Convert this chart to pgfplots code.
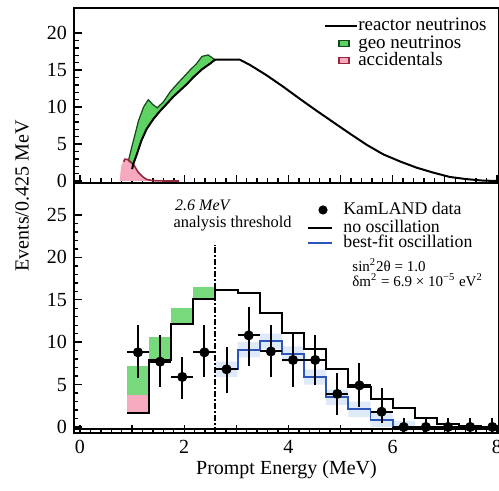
\documentclass[border=0pt]{standalone}
\usepackage{fontspec}
\setmainfont{Liberation Serif}
\usepackage{pgfplots}
\pgfplotsset{compat=1.18}
\definecolor{geo}{RGB}{95,210,100}
\definecolor{geoline}{RGB}{20,70,25}
\definecolor{acc}{RGB}{245,170,192}
\definecolor{accline}{RGB}{150,40,60}
\definecolor{fitblue}{RGB}{45,85,185}
\definecolor{band}{RGB}{222,233,250}
\tikzset{legtxt/.style={anchor=west, inner sep=0pt, text height=1ex, text depth=0pt}}
\begin{document}
\begin{tikzpicture}
\pgfplotsset{
  kl/.style={
    scale only axis, width=212.5pt, anchor=south west,
    xmin=-0.115, xmax=8.04,
    axis line style={line width=1pt},
    tick style={line width=0.7pt, black},
    major tick length=4pt, minor tick length=2.5pt,
    xtick={0,...,8}, minor x tick num=4,
    xtick pos=bottom, ytick pos=left,
    tick align=inside,
    ticklabel style={font=\fontsize{10}{12}\selectfont},
    /pgf/number format/assume math mode=true,
  },
}
% ---------------- top panel ----------------
\begin{axis}[kl, at={(37pt,154pt)}, height=87.5pt,
  ymin=-0.27, ymax=23.4, ytick={0,5,10,15,20}, minor y tick num=4,
  xticklabels={},
]
\addplot[fill=acc, draw=none] coordinates {(0.76,0)(0.79,2.0)(0.84,2.85)(0.9,2.95)(0.97,2.6)(1.03,2.2)(1.12,1.15)(1.2,0.6)(1.28,0.2)(1.4,0.05)(1.9,0)} --cycle;
\addplot[fill=geo, draw=geoline, line width=0.6pt] coordinates {(0.93,2.75)(0.99,4.5)(1.06,6.4)(1.12,8.1)(1.22,10.0)(1.31,11.0)(1.39,10.4)(1.48,9.9)(1.6,10.7)(1.73,12.05)(1.86,13.1)(1.98,14.0)(2.11,15.0)(2.24,15.9)(2.34,16.85)(2.46,17.05)(2.56,16.55)(2.6,16.4)(2.5,15.9)(2.34,15.1)(2.17,14.0)(2.05,13.1)(1.92,12.25)(1.79,11.4)(1.66,10.4)(1.54,9.5)(1.41,8.4)(1.28,7.05)(1.18,5.5)(1.09,3.6)(1.02,2.25)} --cycle;
\addplot[accline, line width=0.8pt] coordinates {(0.84,2.6)(0.86,2.95)(0.92,2.9)(0.97,2.6)(1.03,2.2)(1.12,1.15)(1.2,0.6)(1.28,0.2)(1.4,0.05)(1.6,0)(1.9,0)};
\addplot[black, line width=1pt] coordinates {(1.0,1.6)(1.02,2.25)(1.09,3.6)(1.18,5.5)(1.28,7.05)(1.41,8.4)(1.54,9.5)(1.66,10.4)(1.79,11.4)(1.92,12.25)(2.05,13.1)(2.17,14.0)(2.34,15.1)(2.5,15.9)(2.59,16.4)(3.07,16.4)(3.26,15.7)(3.49,14.7)(3.58,14.3)(3.9,12.75)(4.22,11.1)(4.54,9.5)(4.86,7.95)(5.18,6.4)(5.5,4.9)(5.82,3.6)(6.14,2.65)(6.46,1.8)(6.78,1.13)(7.1,0.54)(7.42,0.25)(7.74,0.05)(8.04,0)};
% legend
\draw[black, line width=1pt] (rel axis cs:0.5906,0.8966) -- (rel axis cs:0.6659,0.8966);
\node[legtxt, font=\fontsize{9.5}{10}\selectfont] at (rel axis cs:0.668,0.8966) {reactor neutrinos};
\draw[fill=geo, draw=geoline, line width=0.6pt] (rel axis cs:0.6235,0.779) rectangle (rel axis cs:0.647,0.813);
\node[legtxt, font=\fontsize{9.5}{10}\selectfont] at (rel axis cs:0.668,0.793) {geo neutrinos};
\draw[fill=acc, draw=accline, line width=0.6pt] (rel axis cs:0.6235,0.681) rectangle (rel axis cs:0.647,0.715);
\node[legtxt, font=\fontsize{9.5}{10}\selectfont] at (rel axis cs:0.668,0.695) {accidentals};
\end{axis}
% ---------------- bottom panel ----------------
\begin{axis}[kl, at={(37pt,29pt)}, height=125pt,
  ymin=-0.71, ymax=28.77, ytick={0,5,10,15,20,25}, minor y tick num=4,
  xticklabels={0,,2,,4,,6,,8},
  minor tick length=2pt,
  xlabel={Prompt Energy (MeV)},
  xlabel style={at={(axis description cs:0.5,0)}, anchor=center, yshift=-18.5pt, font=\fontsize{10}{12}\selectfont},
]
% blue uncertainty band
\addplot[fill=band, draw=none] coordinates {(2.6,7.7)(3.025,7.7)(3.025,10.0)(3.45,10.0)(3.45,11.0)(3.875,11.0)(3.875,9.5)(4.3,9.5)(4.3,6.8)(4.725,6.8)(4.725,4.4)(5.15,4.4)(5.15,3.0)(5.575,3.0)(5.575,1.7)(6.0,1.7)(6.0,0.7)(6.425,0.7)(6.425,0)(5.575,0)(5.575,1.2)(5.15,1.2)(5.15,2.6)(4.725,2.6)(4.725,5.0)(4.3,5.0)(4.3,7.7)(3.875,7.7)(3.875,9.2)(3.45,9.2)(3.45,8.2)(3.025,8.2)(3.025,5.9)(2.6,5.9)} --cycle;
% accidentals and geo contributions
\addplot[fill=acc, draw=none] coordinates {(0.9,1.6)(1.325,1.6)(1.325,3.8)(0.9,3.8)} --cycle;
\addplot[fill=geo!85, draw=none] coordinates {(0.9,3.8)(1.325,3.8)(1.325,7.2)(0.9,7.2)} --cycle;
\addplot[fill=geo!85, draw=none] coordinates {(1.325,7.9)(1.75,7.9)(1.75,10.6)(1.325,10.6)} --cycle;
\addplot[fill=geo!85, draw=none] coordinates {(1.75,12.2)(2.175,12.2)(2.175,14.0)(1.75,14.0)} --cycle;
\addplot[fill=geo!85, draw=none] coordinates {(2.175,15.1)(2.6,15.1)(2.6,16.5)(2.175,16.5)} --cycle;
% no oscillation
\addplot[const plot, black, line width=1pt] coordinates {(0.9,1.6)(1.325,7.9)(1.75,12.2)(2.175,15.1)(2.6,16.2)(3.025,15.8)(3.45,13.4)(3.875,11.1)(4.3,9.2)(4.725,6.8)(5.15,4.7)(5.575,3.3)(6.0,2.2)(6.425,1.1)(6.85,0.4)(7.275,0.15)(7.7,0.05)(8.125,0.05)};
% best fit oscillation
\addplot[const plot, fitblue, line width=0.9pt] coordinates {(2.6,6.8)(3.025,9.1)(3.45,10.1)(3.875,8.6)(4.3,5.9)(4.725,3.5)(5.15,2.1)(5.575,0.8)(6.0,0.05)(6.425,0)(8.1,0)};
% threshold
\addplot[black, line width=1pt, dash pattern=on 3pt off 1pt on 1pt off 1pt] coordinates {(2.6,-0.71)(2.6,21.5)};
% ladder line on bottom axis
\addplot[black, line width=0.6pt] coordinates {(-0.2,-0.24)(8.1,-0.24)};
% data
\addplot[only marks, mark=*, mark size=2.3pt, black,
  error bars/.cd, x dir=both, x explicit, y dir=both, y explicit,
  error bar style={line width=1pt, black}, error mark=none]
  table[x=x, y=y, x error=ex, y error plus=ep, y error minus=em] {
x y ex ep em
1.1125 8.8 0.2125 3.2 3.0
1.5375 7.7 0.2125 3.1 3.0
1.9625 5.9 0.2125 2.4 2.6
2.3875 8.8 0.2125 3.2 2.9
2.8125 6.8 0.2125 2.6 2.8
3.2375 10.8 0.2125 3.4 3.6
3.6625 8.9 0.2125 3.1 3.0
4.0875 7.9 0.2125 3.3 3.2
4.5125 7.9 0.2125 2.9 3.0
4.9375 3.9 0.2125 2.5 2.5
5.3625 4.9 0.2125 2.6 2.6
5.7875 1.8 0.2125 2.8 1.3
6.2125 0 0.2125 1.0 1.0
6.6375 0 0.2125 1.0 1.0
7.0625 0 0.2125 1.0 1.0
7.4875 0 0.2125 1.0 1.0
7.9125 0 0.2125 1.0 1.0
};
% legend
\fill[black] (rel axis cs:0.5859,0.892) circle[radius=2.3pt];
\node[legtxt, font=\fontsize{8.9}{10}\selectfont] at (rel axis cs:0.6329,0.892) {KamLAND data};
\draw[black, line width=1pt] (rel axis cs:0.5506,0.82) -- (rel axis cs:0.6071,0.82);
\node[legtxt, font=\fontsize{8.9}{10}\selectfont] at (rel axis cs:0.6329,0.82) {no oscillation};
\draw[fitblue, line width=1pt] (rel axis cs:0.5506,0.76) -- (rel axis cs:0.6071,0.76);
\node[legtxt, font=\fontsize{8.9}{10}\selectfont] at (rel axis cs:0.6329,0.76) {best-fit oscillation};
\node[anchor=west, inner sep=0pt, font=\itshape\fontsize{8}{9}\selectfont] at (axis cs:1.82,26.1) {2.6 MeV};
\node[anchor=west, inner sep=0pt, font=\fontsize{8.2}{9}\selectfont] at (axis cs:1.79,24.0) {analysis threshold};
\node[anchor=west, inner sep=0pt, font=\fontsize{7.5}{9}\selectfont] at (axis cs:5.22,19.1) {sin\textsuperscript{2}2θ = 1.0};
\node[anchor=west, inner sep=0pt, font=\fontsize{7.5}{9}\selectfont] at (axis cs:5.22,17.3) {δm\textsuperscript{2} = 6.9 × 10\textsuperscript{−5} eV\textsuperscript{2}};
\end{axis}
\node[rotate=90, font=\fontsize{10}{12}\selectfont] at (11pt,147.5pt) {Events/0.425 MeV};
\pgfresetboundingbox
\useasboundingbox (0pt,0pt) rectangle (249.5pt,245.5pt);
\end{tikzpicture}
\end{document}
